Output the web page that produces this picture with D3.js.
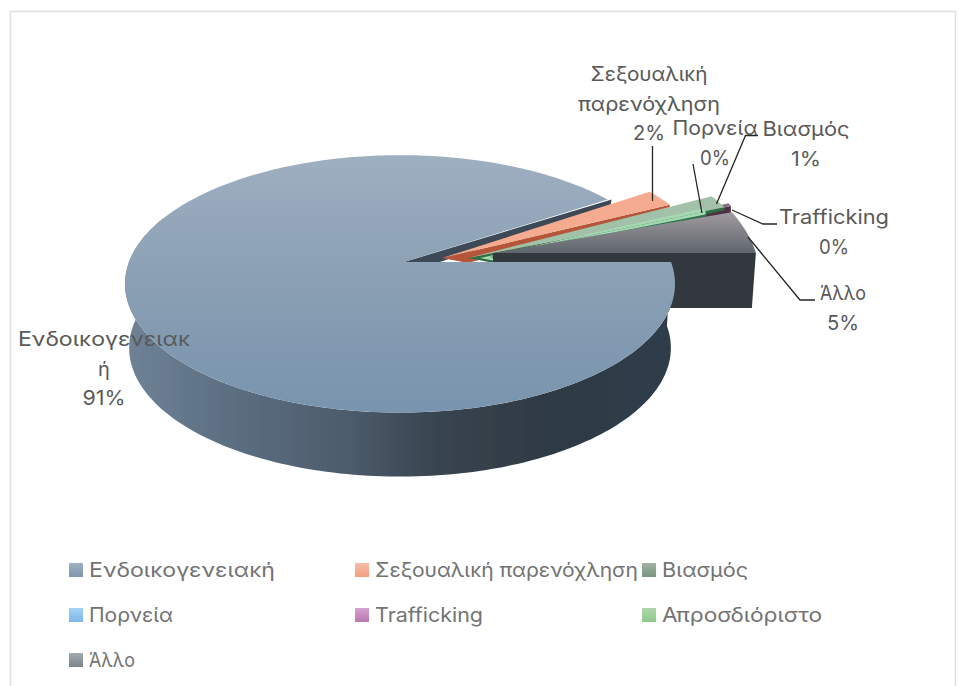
<!DOCTYPE html>
<html><head><meta charset="utf-8">
<script src="https://cdn.jsdelivr.net/npm/d3@7"></script>
<style>html,body{margin:0;background:#fff}svg{display:block}text{font-family:"Inter","Open Sans",sans-serif;fill:#595959}</style>
</head><body><svg id="c" width="959" height="686"></svg>
<script>
const categories=["Ενδοικογενειακή","Σεξουαλική παρενόχληση","Βιασμός","Πορνεία","Trafficking","Απροσδιόριστο","Άλλο"];
const values=[90.8,2.1,1.4,0.4,0.3,0.2,4.8];
const legendWidths=[186,263,86,84,108,160,46];
const legendColors=[["#9fb0c2","#7e96ae"],["#f7bda8","#f49d80"],["#a0b3a4","#78967f"],["#a5d2f5","#7ab8ea"],["#d5a3cf","#bb78b0"],["#acd7a8","#8fca8a"],["#a3a9af","#7c848c"]];
const faceColors=[null,"#f5ab90","#a3c0a8","#a6d8b4","#86707f","#2c7a4e","url(#gOther)"];
const wallColors=["#3d4957","#b5573a","#2f6e45","#a6d8b4","#4d3044","#1f6b3a","#33383c"];
const offsets=[[4,0],[42,-4],[68,-4],[80,-4],[86,-6],[90,-5],[93,-9]];
const reachX=[1,1.0,1.07,.93,1,.88,.97];
const reachY=[1,1.06,1.23,1.2,1.36,1.16,1.15];
const wallDepth=[5,2.5,3,3,10,3,55];
const drawOrder=[1,4,2,3,5,6];
const labels=[
 {lines:["Ενδοικογενειακ","ή","91%"],widths:[172,null,43],x:104,y:339},
 {lines:["Σεξουαλική","παρενόχληση","2%"],widths:[117,142,32],x:649,y:74},
 {lines:["Βιασμός","1%"],widths:[87,30],x:806,y:129},
 {lines:["Πορνεία","0%"],widths:[85,30],x:715,y:128},
 {lines:["Trafficking","0%"],widths:[110,30],x:834,y:217},
 {lines:["Άλλο","5%"],widths:[46,32],x:843,y:293}];
const leaders=[
 [[652.5,146],[652.5,201]],
 [[693,164],[702,213]],
 [[758,135.5],[745.5,135.5],[716.5,204]],
 [[777,224],[763,224],[732,210]],
 [[815,300],[800,300],[748,237]]];

const svg=d3.select("#c"),defs=svg.append("defs");
function grad(id,x2,y2,stops){const g=defs.append("linearGradient").attr("id",id).attr("x1",0).attr("y1",0).attr("x2",x2).attr("y2",y2);
 stops.forEach(s=>g.append("stop").attr("offset",s[0]).attr("stop-color",s[1]));}
grad("gTop",0,1,[[0,"#9eafc1"],[.5,"#8a9fb3"],[1,"#7894ae"]]);
grad("gSide",1,0,[[0,"#6f8296"],[.2,"#5b6e81"],[.42,"#4b5a69"],[.55,"#3a4652"],[.75,"#2f3a44"],[1,"#2e3d49"]]);
grad("gOther",0,1,[[0,"#a09aa0"],[1,"#5f666c"]]);
legendColors.forEach((c,i)=>grad("L"+i,0,1,[[0,c[0]],[1,c[1]]]));
defs.append("filter").attr("id","soft").append("feGaussianBlur").attr("stdDeviation",0.6);

svg.append("path").attr("d","M10.5,686V11.5H955.5V686").attr("fill","none").attr("stroke","#e0e0e0").attr("stroke-width",1.5);

const cx=400,cy=262,rx=271,ry=125,pk=0.17,depth=64,bottomScale=0.985;
const xS=d3.scaleLinear().domain([0,1]).range([0,rx]),yS=d3.scaleLinear().domain([0,1]).range([0,ry]);
function proj(i,a){const u=Math.sin(a),v=-Math.cos(a),d=1-pk*v,o=offsets[i];
 return [cx+o[0]+xS(u/d)*reachX[i],cy+o[1]+yS(v/d)*reachY[i]];}
const apex=i=>[cx+offsets[i][0],cy+offsets[i][1]];
const pie=d3.pie().sort(null).startAngle(Math.PI/2).endAngle(Math.PI*2.5);
const arcs=pie(values);
const line=d3.line();
function face(i){const A=arcs[i],n=Math.max(3,Math.ceil((A.endAngle-A.startAngle)*60)),p=[apex(i)];
 d3.range(n+1).forEach(k=>p.push(proj(i,A.startAngle+(A.endAngle-A.startAngle)*k/n)));
 return line(p)+"Z";}
const g=svg.append("g").attr("filter","url(#soft)");
{const e=proj(0,arcs[0].endAngle),s=apex(0);
 g.append("path").attr("d",line([s,e,[e[0]-1,e[1]+wallDepth[0]],[s[0]+36,s[1]]])+"Z").attr("fill",wallColors[0]);}
drawOrder.forEach(i=>{const A=arcs[i],d=wallDepth[i],e=proj(i,A.endAngle),s=apex(i);
 if(i===arcs.length-1){
  g.append("path").attr("d",line([s,e,[e[0]-4,e[1]+d],[s[0],s[1]+d]])+"Z").attr("fill",wallColors[i]);
 }else{
  g.append("path").attr("d",line([s,e,[e[0],e[1]+d],[s[0]+26,s[1]+5]])+"Z").attr("fill",wallColors[i]);
 }
 g.append("path").attr("d",face(i)).attr("fill",faceColors[i]);
});
{const A=arcs[0],n=160,up=[],down=[],end=Math.PI*1.62;
 d3.range(n+1).forEach(k=>{const a=A.startAngle+(end-A.startAngle)*k/n,p=proj(0,a);
  up.push([p[0]-offsets[0][0],p[1]]);
  down.push([cx+(p[0]-offsets[0][0]-cx)*bottomScale,p[1]+depth]);});
 g.append("path").attr("d",line(up.concat(down.reverse()))+"Z").attr("fill","url(#gSide)");
 const B=[apex(0)];d3.range(n*2+1).forEach(k=>B.push(proj(0,A.startAngle+(A.endAngle-A.startAngle)*k/(n*2))));
 B.forEach((p,k)=>{if(k>0)p[0]-=offsets[0][0];});
 g.append("path").attr("d",line(B)+"Z").attr("fill","url(#gTop)");
}
svg.append("g").selectAll("path").data(leaders).join("path").attr("d",d=>line(d)).attr("fill","none").attr("stroke","#262626").attr("stroke-width",1.3);
labels.forEach(l=>{l.lines.forEach((s,j)=>{const t=svg.append("text").attr("text-anchor","middle").attr("font-size",20).attr("x",l.x).attr("y",l.y+j*29.5+7).text(s);
  if(l.widths[j])t.attr("textLength",l.widths[j]).attr("lengthAdjust","spacingAndGlyphs");});});
const colX=[69,355,642],rowY=[563,608,653];
const lg=svg.append("g").selectAll("g").data(categories).join("g").attr("transform",(d,i)=>`translate(${colX[i%3]},${rowY[Math.floor(i/3)]})`);
lg.append("rect").attr("width",14).attr("height",14).attr("fill",(d,i)=>`url(#L${i})`);
lg.append("text").attr("x",20).attr("y",14).attr("font-size",20).attr("textLength",(d,i)=>legendWidths[i]).attr("lengthAdjust","spacingAndGlyphs").style("fill","#737373").text(d=>d);
</script></body></html>
